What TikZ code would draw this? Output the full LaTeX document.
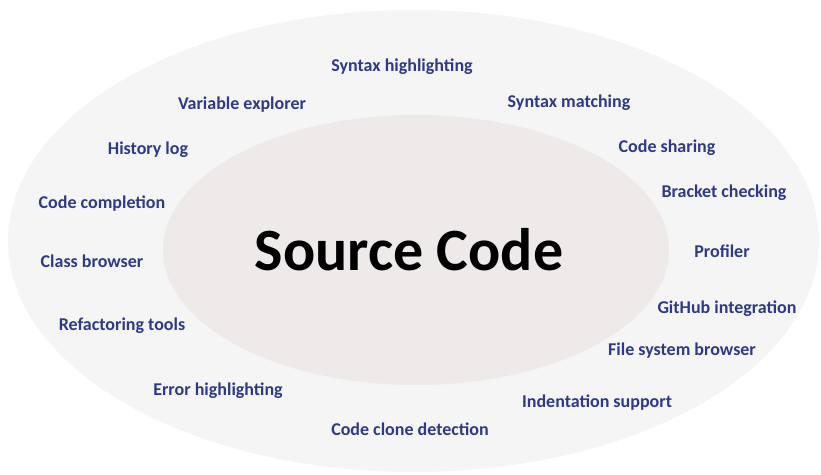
\documentclass[tikz,border=0pt]{standalone}
\usepackage{fontspec}
\setmainfont{Carlito}
\usetikzlibrary{positioning, shapes.geometric}
\definecolor{featblue}{RGB}{46,57,135}
\definecolor{outerfill}{RGB}{246,245,245}
\definecolor{innerfill}{RGB}{237,234,233}

\begin{document}
\begin{tikzpicture}[x=1pt, y=-1pt,
  feat/.style={text=featblue, font=\fontsize{18}{20}\selectfont\bfseries, anchor=base, inner sep=0pt}]
\useasboundingbox (0,0) rectangle (821,474);
\node[ellipse, fill=outerfill, minimum width=811pt, minimum height=462pt, inner sep=0pt] (outer) at (413.5,241) {};
\node[ellipse, fill=innerfill, minimum width=506pt, minimum height=270pt, inner sep=0pt] (inner) at (416,250) {};
\node[anchor=base, inner sep=0pt, font=\fontsize{60}{66}\selectfont\bfseries] (src) at (409,270) {Source Code};
% features round the source code
\node[feat] (synhl) at (402,71) {Syntax highlighting};
\node[feat] (varexp) at (242,109) {Variable explorer};
\node[feat] (synmat) at (569,107) {Syntax matching};
\node[feat] (histlog) at (148,154) {History log};
\node[feat] (codeshare) at (667,152) {Code sharing};
\node[feat] (codecomp) at (102,208) {Code completion};
\node[feat] (bracket) at (724,197) {Bracket checking};
\node[feat] (classbr) at (92,267) {Class browser};
\node[feat] (profiler) at (722,257) {Profiler};
\node[feat] (refact) at (122,330) {Refactoring tools};
\node[feat] (github) at (727,313) {GitHub integration};
\node[feat] (filesys) at (682,355) {File system browser};
\node[feat] (errhl) at (218,395) {Error highlighting};
\node[feat] (indent) at (597,407) {Indentation support};
\node[feat] (clone) at (410,435) {Code clone detection};
\end{tikzpicture}
\end{document}
